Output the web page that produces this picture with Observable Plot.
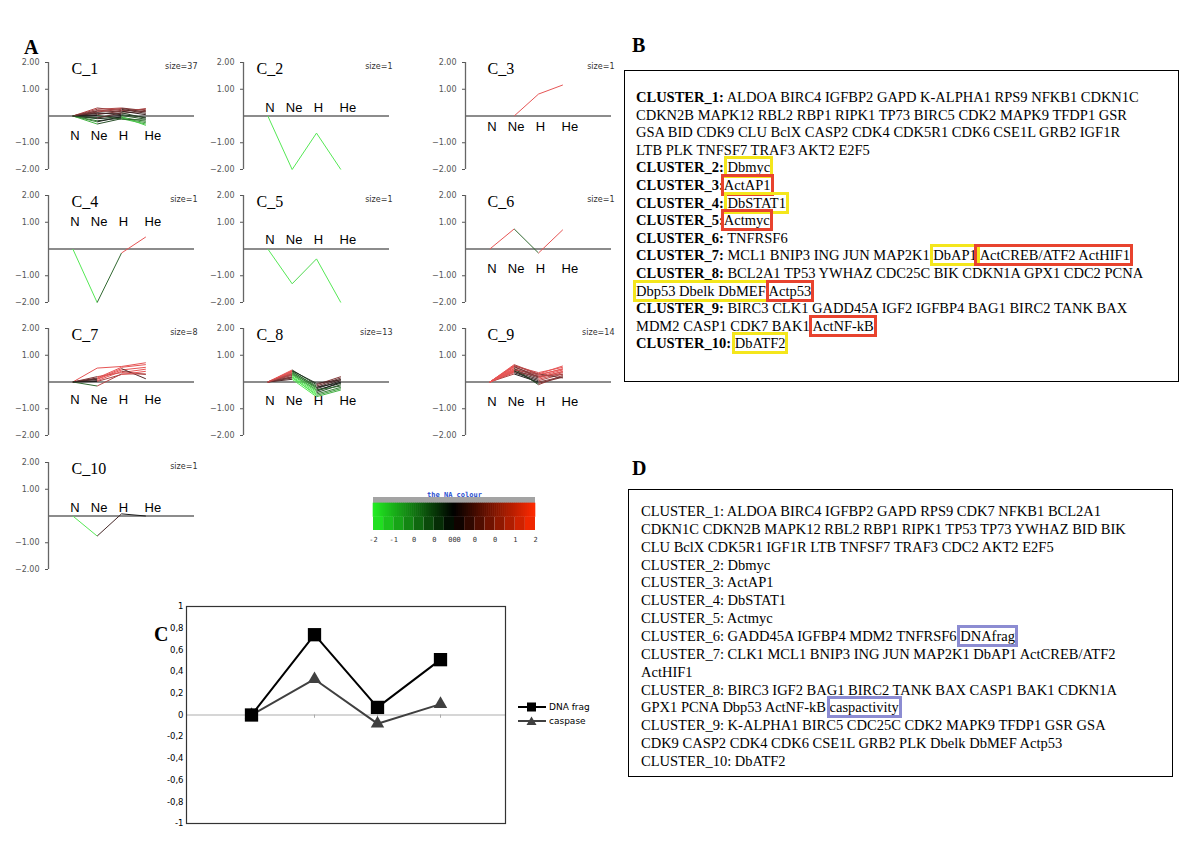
<!DOCTYPE html>
<html><head><meta charset="utf-8">
<script src="https://cdn.jsdelivr.net/npm/d3@7"></script>
<script src="https://cdn.jsdelivr.net/npm/@observablehq/plot@0.6"></script>
<style>
body{margin:0;background:#fff;width:1200px;height:848px;position:relative;overflow:hidden;font-family:"Liberation Serif","Times New Roman",serif;}
.abs{position:absolute;}
.letter{position:absolute;font:bold 20px "Liberation Serif",serif;line-height:20px;z-index:5;}
.box{position:absolute;border:1.5px solid #000;box-sizing:border-box;}
.txt{position:absolute;font-size:14.5px;white-space:pre;color:#000;}
.y{outline:3px solid #f4e61c;}
.r{outline:3px solid #e8432e;}
.p{outline:3px solid #8c8cd2;}
</style></head><body>
<div class="letter" style="left:24px;top:37px">A</div>
<div class="letter" style="left:632px;top:35px">B</div>
<div class="letter" style="left:154px;top:624px">C</div>
<div class="letter" style="left:632px;top:458px">D</div>

<div class="box" style="left:624px;top:70px;width:555px;height:312px"></div>
<div class="txt" style="left:636px;top:89px;line-height:17.6px"><b>CLUSTER_1:</b> ALDOA BIRC4 IGFBP2 GAPD K-ALPHA1 RPS9 NFKB1 CDKN1C
CDKN2B MAPK12 RBL2 RBP1 RIPK1 TP73 BIRC5 CDK2 MAPK9 TFDP1 GSR
GSA BID CDK9 CLU BclX CASP2 CDK4 CDK5R1 CDK6 CSE1L GRB2 IGF1R
LTB PLK TNFSF7 TRAF3 AKT2 E2F5
<b>CLUSTER_2:</b> <span class="y">Dbmyc</span>
<b>CLUSTER_3:</b><span class="r">ActAP1</span>
<b>CLUSTER_4:</b> <span class="y">DbSTAT1</span>
<b>CLUSTER_5:</b><span class="r">Actmyc</span>
<b>CLUSTER_6:</b> TNFRSF6
<b>CLUSTER_7:</b> MCL1 BNIP3 ING JUN MAP2K1 <span class="y">DbAP1</span><span class="r"> ActCREB/ATF2 ActHIF1</span>
<b>CLUSTER_8:</b> BCL2A1 TP53 YWHAZ CDC25C BIK CDKN1A GPX1 CDC2 PCNA
<span class="y">Dbp53 Dbelk DbMEF</span> <span class="r">Actp53</span>
<b>CLUSTER_9:</b> BIRC3 CLK1 GADD45A IGF2 IGFBP4 BAG1 BIRC2 TANK BAX
MDM2 CASP1 CDK7 BAK1 <span class="r">ActNF-kB</span>
<b>CLUSTER_10:</b> <span class="y">DbATF2</span></div>

<div class="box" style="left:628px;top:489px;width:545px;height:288px"></div>
<div class="txt" style="left:641px;top:503px;line-height:17.86px">CLUSTER_1: ALDOA BIRC4 IGFBP2 GAPD RPS9 CDK7 NFKB1 BCL2A1
CDKN1C CDKN2B MAPK12 RBL2 RBP1 RIPK1 TP53 TP73 YWHAZ BID BIK
CLU BclX CDK5R1 IGF1R LTB TNFSF7 TRAF3 CDC2 AKT2 E2F5
CLUSTER_2: Dbmyc
CLUSTER_3: ActAP1
CLUSTER_4: DbSTAT1
CLUSTER_5: Actmyc
CLUSTER_6: GADD45A IGFBP4 MDM2 TNFRSF6 <span class="p">DNAfrag</span>
CLUSTER_7: CLK1 MCL1 BNIP3 ING JUN MAP2K1 DbAP1 ActCREB/ATF2
ActHIF1
CLUSTER_8: BIRC3 IGF2 BAG1 BIRC2 TANK BAX CASP1 BAK1 CDKN1A
GPX1 PCNA Dbp53 ActNF-kB <span class="p">caspactivity</span>
CLUSTER_9: K-ALPHA1 BIRC5 CDC25C CDK2 MAPK9 TFDP1 GSR GSA
CDK9 CASP2 CDK4 CDK6 CSE1L GRB2 PLK Dbelk DbMEF Actp53
CLUSTER_10: DbATF2</div>

<div class="abs" style="left:518px;top:700px;font:9px 'DejaVu Sans',sans-serif;color:#000;line-height:14px">
<div style="display:flex;align-items:center"><svg width="28" height="12"><line x1="0" y1="6" x2="28" y2="6" stroke="#000" stroke-width="2"/><rect x="9" y="1.5" width="9" height="9" fill="#000"/></svg><span style="margin-left:3px">DNA frag</span></div>
<div style="display:flex;align-items:center"><svg width="28" height="12"><line x1="0" y1="6" x2="28" y2="6" stroke="#404040" stroke-width="2"/><path d="M13.5 1.5 L18.5 10 L8.5 10 Z" fill="#404040"/></svg><span style="margin-left:3px">caspase</span></div>
</div>

<script>
// ---------- Panel A data ----------
const stages = ["N", "Ne", "H", "He"];
const c1Lines = [
  [0, 0.30, 0.20, 0.25], [0, 0.25, 0.30, 0.20], [0, 0.20, 0.15, 0.28],
  [0, 0.15, 0.25, 0.10], [0, 0.10, 0.10, 0.18], [0, 0.05, 0.18, 0.05],
  [0, 0.12, 0.05, -0.05], [0, -0.05, 0.02, -0.12], [0, -0.10, -0.05, -0.20],
  [0, -0.18, -0.08, -0.25], [0, -0.30, -0.10, -0.30], [0, -0.22, -0.02, -0.35],
  [0, 0.02, -0.12, -0.15], [0, 0.18, 0.28, 0.15], [0, -0.08, 0.12, -0.08]
];
const c2Lines = [[0, -2.0, -0.64, -2.0]];
const c3Lines = [[null, 0, 0.82, 1.16]];
const c4Lines = [[0, -2.0, -0.15, 0.45]];
const c5Lines = [[0, -1.3, -0.37, -2.0]];
const c6Lines = [[0, 0.75, -0.15, 0.72]];
const c7Lines = [
  [0, 0.52, 0.58, 0.72], [0, 0.15, 0.55, 0.65], [0, 0.10, 0.45, 0.55],
  [0, 0.20, 0.35, 0.48], [0, 0.05, 0.40, 0.28], [0, 0.12, 0.50, 0.12],
  [0, -0.15, 0.30, 0.30], [0, 0.02, 0.28, 0.40]
];
const c8Lines = [
  [0, 0.45, -0.10, 0.20], [0, 0.40, -0.20, 0.10], [0, 0.35, -0.25, 0.05],
  [0, 0.30, -0.30, -0.05], [0, 0.25, -0.35, 0.00], [0, 0.20, -0.40, -0.10],
  [0, 0.15, -0.45, -0.20], [0, 0.10, -0.55, -0.30], [0, 0.38, -0.15, 0.15],
  [0, 0.28, -0.30, -0.15], [0, 0.42, -0.05, 0.08], [0, 0.18, -0.50, -0.25],
  [0, 0.32, -0.20, -0.02]
];
const c9Lines = [
  [0, 0.65, 0.30, 0.60], [0, 0.60, 0.35, 0.55], [0, 0.55, 0.25, 0.50],
  [0, 0.50, 0.20, 0.45], [0, 0.45, 0.15, 0.40], [0, 0.40, 0.10, 0.35],
  [0, 0.35, 0.05, 0.30], [0, 0.30, 0.00, 0.20], [0, 0.50, -0.10, 0.25],
  [0, 0.45, 0.30, 0.15], [0, 0.58, 0.18, 0.38], [0, 0.38, 0.22, 0.28],
  [0, 0.42, -0.05, 0.18], [0, 0.62, 0.28, 0.48]
];
const c10Lines = [[0, -0.75, 0.08, 0.0]];
const clusterNames = ["C_1","C_2","C_3","C_4","C_5","C_6","C_7","C_8","C_9","C_10"];
const clusterSizes = [37, 1, 1, 1, 1, 1, 8, 13, 14, 1];
const clusterLines = [c1Lines, c2Lines, c3Lines, c4Lines, c5Lines, c6Lines, c7Lines, c8Lines, c9Lines, c10Lines];
const yTicksA = [-2, -1, 1, 2];

// ---------- Legend data ----------
const legendLabels = ["-2", "-1", "0", "0", "000", "0", "0", "1", "2"];

// ---------- Panel C data ----------
const dnaFrag = [0, 0.74, 0.07, 0.51];
const caspase = [0, 0.33, -0.08, 0.10];
const yTicksC = [-1, -0.8, -0.6, -0.4, -0.2, 0, 0.2, 0.4, 0.6, 0.8, 1];

// ---------- Layout (not data) ----------
const colAxisX = [48, 243, 465];
const rowTopY = [62, 195, 328, 462];
const titleDx = [23, 13, 22];
const labelYs = [-0.75, 0.3, -0.4, 1.0, 0.35, -0.75, -0.67, -0.7, -0.75, 0.3];

function place(el, left, top) {
  const d = document.createElement("div");
  d.className = "abs";
  d.style.left = left + "px";
  d.style.top = top + "px";
  d.appendChild(el);
  document.body.appendChild(d);
}

const segColor = {type: "linear", domain: [-0.4, 0, 0.4], range: ["#55e855", "#1c1c1c", "#e65555"], clamp: true, interpolate: "rgb"};

clusterNames.forEach((name, k) => {
  const col = k % 3, row = Math.floor(k / 3);
  const segs = [];
  clusterLines[k].forEach(ln => {
    for (let i = 0; i < ln.length - 1; i++) {
      if (ln[i] == null || ln[i + 1] == null) continue;
      segs.push({x1: i + 1, y1: ln[i], x2: i + 2, y2: ln[i + 1], v: ln[i + 1]});
    }
  });
  const ly = labelYs[k];
  const chart = Plot.plot({
    width: 213, height: 129,
    marginLeft: 45, marginRight: 22, marginTop: 12, marginBottom: 10,
    style: {background: "transparent", fontFamily: "DejaVu Sans", fontSize: "8px", color: "#555", overflow: "visible"},
    x: {domain: [0, 6], axis: null},
    y: {domain: [-2, 2], ticks: yTicksA, tickFormat: d3.format(".2f"), tickSize: 3, tickPadding: 6, label: null},
    color: segColor,
    marks: [
      Plot.ruleX([0], {y1: -2, y2: 2, stroke: "#666", strokeWidth: 1.3}),
      Plot.ruleY([0], {x1: 0, x2: 6, stroke: "#666", strokeWidth: 1.3}),
      Plot.link(segs, {x1: "x1", y1: "y1", x2: "x2", y2: "y2", stroke: "v", strokeWidth: 1}),
      Plot.text(stages.slice(0, 3), {x: (d, i) => i + 1, y: ly, dx: 2, text: d => d, fontSize: 13, fontFamily: "Liberation Sans", fill: "#000"}),
      Plot.text(stages.slice(3), {x: 4, y: ly, dx: 7, text: d => d, fontSize: 13, fontFamily: "Liberation Sans", fill: "#000"}),
      Plot.text([name], {x: 0, y: 2, dx: titleDx[col], dy: 6, text: d => d, textAnchor: "start", fontSize: 16, fontFamily: "Liberation Serif", fill: "#000"}),
      Plot.text([clusterSizes[k]], {x: 6, y: 2, dx: 3, dy: 4, text: d => "size=" + d, textAnchor: "end", fontSize: 8, fontFamily: "DejaVu Sans", fill: "#333"})
    ]
  });
  place(chart, colAxisX[col] - 45, rowTopY[row] - 12);
});

// ---------- colour legend ----------
const legendScale = {type: "linear", domain: [-2, 0, 2], range: ["#22ee22", "#000000", "#ff2a00"], interpolate: "rgb"};
const fine = d3.range(-2, 2, 0.05);
const coarse = d3.range(-2, 2, 0.25);
const legend = Plot.plot({
  width: 180, height: 58,
  marginLeft: 9, marginRight: 9, marginTop: 0, marginBottom: 0,
  style: {background: "transparent", overflow: "visible"},
  x: {domain: [-2, 2], axis: null},
  y: {domain: [0, 58], range: [0, 58], axis: null},
  color: legendScale,
  marks: [
    Plot.text(["the NA colour"], {x: 0, y: 4, text: d => d, fontSize: 7, fontFamily: "DejaVu Sans Mono", fill: "#2a4fd0", fontWeight: "bold"}),
    Plot.rect([0], {x1: -2, x2: 2, y1: 7, y2: 13, fill: "#a3a3a3"}),
    Plot.rect(fine, {x1: d => d, x2: d => d + 0.05, y1: 13, y2: 26.5, fill: d => d + 0.025, inset: -0.3}),
    Plot.rect(coarse, {x1: d => d, x2: d => d + 0.25, y1: 26.5, y2: 40, fill: d => d + 0.125, inset: 0}),
    Plot.text(legendLabels, {x: (d, i) => -2 + i * 0.5, y: 49, text: d => d, fontSize: 7, fontFamily: "DejaVu Sans Mono", fill: "#333"})
  ]
});
place(legend, 364, 490);

// ---------- Panel C ----------
const chartC = Plot.plot({
  width: 359, height: 237,
  marginLeft: 30, marginRight: 10, marginTop: 10, marginBottom: 10,
  style: {background: "transparent", fontFamily: "DejaVu Sans", fontSize: "8.5px", color: "#000", overflow: "visible"},
  x: {type: "point", domain: stages, padding: 1, axis: null},
  y: {domain: [-1, 1], ticks: yTicksC, tickFormat: d => String(+d.toFixed(1)).replace(".", ","), tickSize: 0, tickPadding: 3, label: null},
  marks: [
    Plot.ruleY([0], {stroke: "#c8c8c8", strokeWidth: 1.5}),
    Plot.ruleX(stages, {x: d => d, y1: 0, y2: -0.03, stroke: "#aaa"}),
    Plot.frame({stroke: "#333", strokeWidth: 1.2}),
    Plot.line(stages, {x: d => d, y: (d, i) => caspase[i], stroke: "#404040", strokeWidth: 2}),
    Plot.dot(stages, {x: d => d, y: (d, i) => caspase[i], symbol: "triangle", r: 5, fill: "#404040"}),
    Plot.line(stages, {x: d => d, y: (d, i) => dnaFrag[i], stroke: "#000", strokeWidth: 2}),
    Plot.dot(stages, {x: d => d, y: (d, i) => dnaFrag[i], symbol: "square", r: 7.5, fill: "#000"})
  ]
});
place(chartC, 156, 596);
</script>
</body></html>
